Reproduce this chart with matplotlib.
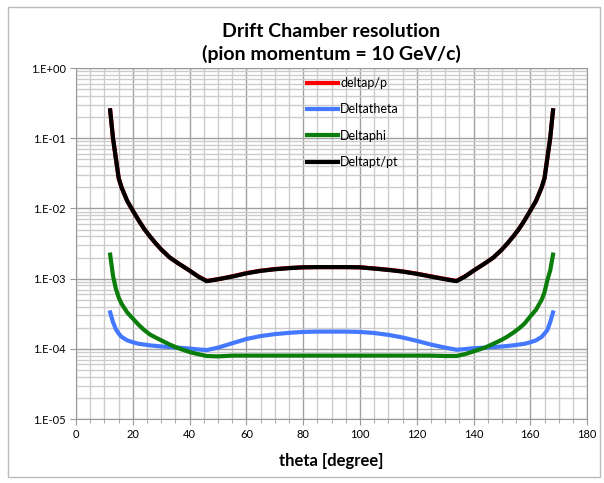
import numpy as np
import matplotlib
matplotlib.use("Agg")
from matplotlib import pyplot as plt
from matplotlib.ticker import FixedLocator, LogLocator, FuncFormatter, NullFormatter

plt.rcParams['font.family'] = ['Lato', 'DejaVu Sans']

# theta [degree]
theta = [12, 13, 14, 15, 16, 18, 20, 22, 24, 26, 28, 30, 33, 36, 40, 43, 46,
         50, 55, 60, 65, 70, 75, 80, 85, 90, 95, 100, 105, 110, 115, 120, 125, 130,
         134, 137, 140, 144, 147, 150, 152, 154, 156, 158, 160, 162, 164, 165, 166, 167, 168]

deltap_p = [0.25, 0.10, 0.052, 0.027, 0.020, 0.0128, 0.0093, 0.0068, 0.0051, 0.0040, 0.0032,
            0.0026, 0.0020, 0.00165, 0.00130, 0.00108, 0.00093,
            0.00098, 0.00108, 0.00120, 0.00130, 0.00137, 0.00142, 0.00145, 0.00146, 0.00146,
            0.00146, 0.00145, 0.00140, 0.00134, 0.00127, 0.00118, 0.00108, 0.00099,
            0.00093, 0.00108, 0.00130, 0.00165, 0.0020, 0.0026, 0.0032, 0.0040, 0.0051,
            0.0068, 0.0093, 0.0128, 0.020, 0.027, 0.052, 0.10, 0.25]

deltatheta = [3.3e-4, 2.4e-4, 1.9e-4, 1.65e-4, 1.48e-4, 1.32e-4, 1.24e-4, 1.18e-4, 1.15e-4,
              1.12e-4, 1.10e-4, 1.08e-4, 1.06e-4, 1.04e-4, 1.01e-4, 0.98e-4, 0.96e-4,
              1.04e-4, 1.20e-4, 1.38e-4, 1.52e-4, 1.62e-4, 1.69e-4, 1.74e-4, 1.76e-4, 1.76e-4,
              1.76e-4, 1.74e-4, 1.68e-4, 1.58e-4, 1.45e-4, 1.30e-4, 1.15e-4, 1.04e-4,
              0.97e-4, 0.99e-4, 1.02e-4, 1.04e-4, 1.06e-4, 1.08e-4, 1.10e-4, 1.12e-4, 1.15e-4,
              1.18e-4, 1.24e-4, 1.32e-4, 1.48e-4, 1.65e-4, 1.85e-4, 2.4e-4, 3.3e-4]

deltaphi = [2.2e-3, 1.1e-3, 7.2e-4, 5.4e-4, 4.4e-4, 3.3e-4, 2.7e-4, 2.2e-4, 1.85e-4, 1.6e-4,
            1.45e-4, 1.32e-4, 1.15e-4, 1.02e-4, 0.90e-4, 0.84e-4, 0.79e-4,
            0.78e-4, 0.80e-4, 0.80e-4, 0.80e-4, 0.80e-4, 0.80e-4, 0.80e-4, 0.80e-4, 0.80e-4,
            0.80e-4, 0.80e-4, 0.80e-4, 0.80e-4, 0.80e-4, 0.80e-4, 0.80e-4, 0.79e-4,
            0.79e-4, 0.84e-4, 0.92e-4, 1.04e-4, 1.18e-4, 1.35e-4, 1.5e-4, 1.7e-4, 1.95e-4,
            2.3e-4, 2.9e-4, 3.6e-4, 5.0e-4, 6.4e-4, 9.5e-4, 1.3e-3, 2.2e-3]

deltapt_pt = [0.25, 0.10, 0.052, 0.027, 0.020, 0.0128, 0.0093, 0.0068, 0.0051, 0.0040, 0.0032,
              0.0026, 0.0020, 0.00165, 0.00130, 0.00107, 0.00092,
              0.00098, 0.00107, 0.00119, 0.00129, 0.00136, 0.00141, 0.00145, 0.00146, 0.00146,
              0.00146, 0.00145, 0.00139, 0.00133, 0.00126, 0.00117, 0.00107, 0.00098,
              0.00092, 0.00107, 0.00130, 0.00165, 0.0020, 0.0026, 0.0032, 0.0040, 0.0051,
              0.0068, 0.0093, 0.0128, 0.020, 0.027, 0.052, 0.10, 0.25]

fig = plt.figure(figsize=(6.04, 4.83), dpi=100)
ax = fig.add_axes([0.126, 0.1325, 0.846, 0.7265])

ax.plot(theta, deltap_p, color='#ff0000', lw=3, label='deltap/p')
ax.plot(theta, deltatheta, color='#4479ff', lw=3, label='Deltatheta')
ax.plot(theta, deltaphi, color='#0a7d0a', lw=3, label='Deltaphi')
ax.plot(theta, deltapt_pt, color='#000000', lw=3, label='Deltapt/pt')

ax.set_yscale('log')
ax.set_ylim(1e-5, 1)
ax.set_xlim(0, 180)

ax.xaxis.set_major_locator(FixedLocator(np.arange(0, 181, 20)))
ax.xaxis.set_minor_locator(FixedLocator(np.arange(0, 181, 5)))
ax.yaxis.set_major_locator(LogLocator(base=10, numticks=10))
ax.yaxis.set_minor_locator(LogLocator(base=10, subs=np.arange(2, 10), numticks=10))
ax.yaxis.set_minor_formatter(NullFormatter())
ax.yaxis.set_major_formatter(FuncFormatter(lambda v, p: "1.E%+03d" % int(round(np.log10(v)))))

ax.grid(which='major', color='#a0a0a0', lw=1.0)
ax.grid(which='minor', color='#cccccc', lw=1.0)
ax.set_axisbelow(True)

for s in ax.spines.values():
    s.set_color('#999999')
ax.tick_params(which='major', labelsize=8, color='#999999', length=4)
ax.tick_params(which='minor', length=0)
ax.tick_params(axis='x', which='minor', length=3, color='#999999')

ax.set_xlabel('theta [degree]', fontsize=12, fontweight='bold', labelpad=9)
ax.set_title('Drift Chamber resolution\n(pion momentum = 10 GeV/c)', fontsize=14,
             fontweight='bold', pad=6, linespacing=1.3)

ax.legend(loc='upper left', bbox_to_anchor=(0.5, 0.851), bbox_transform=fig.transFigure,
          frameon=False, fontsize=9, labelspacing=1.15, handlelength=2.5, handletextpad=0.15,
          borderaxespad=0)

fig.patches.append(plt.Rectangle((0.014, 0.012), 0.98, 0.974, transform=fig.transFigure,
                                 fill=False, edgecolor='#bbbbbb', lw=1))

fig.savefig('out.png', dpi=100)
